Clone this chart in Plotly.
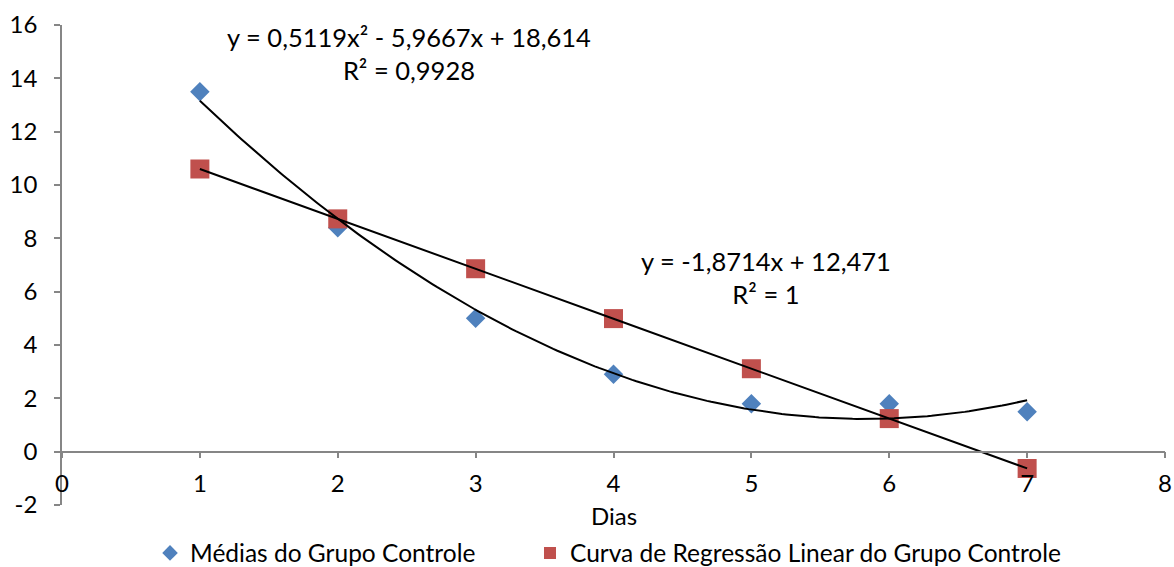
import numpy as np
import plotly.graph_objects as go

dias = [1, 2, 3, 4, 5, 6, 7]
medias = [13.5, 8.4, 5.0, 2.9, 1.8, 1.8, 1.5]
regressao = [10.60, 8.73, 6.86, 4.99, 3.11, 1.24, -0.63]
quad_coef = [0.5119, -5.9667, 18.614]   # from the chart's equation label
lin_coef = [-1.8714, 12.471]
eq1 = "y = 0,5119x² - 5,9667x + 18,614<br>R² = 0,9928"
eq2 = "y = -1,8714x + 12,471<br>R² = 1"
y_ticks = [-2, 0, 2, 4, 6, 8, 10, 12, 14, 16]
y_ticktext = ["-2", "0", "2", "4", "6", "8", "10", "12", "14", "16"]
x_ticks = [0, 1, 2, 3, 4, 5, 6, 7, 8]

FONT = "Lato"
AX = "#868686"
FS = 24

fig = go.Figure()
fig.add_trace(go.Scatter(x=dias, y=medias, mode="markers", name="Médias do Grupo Controle",
                         marker=dict(symbol="diamond", size=15, color="#4F81BD"), legend="legend"))
fig.add_trace(go.Scatter(x=dias, y=regressao, mode="markers",
                         name="Curva de Regressão Linear do Grupo Controle",
                         marker=dict(symbol="square", size=19, color="#C0504D"), legend="legend2"))

xs = np.linspace(min(dias), max(dias), 200)
fig.add_trace(go.Scatter(x=xs, y=np.polyval(quad_coef, xs), mode="lines", showlegend=False,
                         line=dict(color="black", width=2), hoverinfo="skip"))
fig.add_trace(go.Scatter(x=xs, y=np.polyval(lin_coef, xs), mode="lines", showlegend=False,
                         line=dict(color="black", width=2), hoverinfo="skip"))

fig.add_annotation(x=2.52, y=14.93, text=eq1, showarrow=False, xanchor="center", yanchor="middle",
                   font=dict(family=FONT, size=25.5, color="black"))
fig.add_annotation(x=5.105, y=6.54, text=eq2, showarrow=False, xanchor="center", yanchor="middle",
                   font=dict(family=FONT, size=25.5, color="black"))
fig.add_annotation(x=0.5, xref="paper", y=-0.021, yref="paper", text="Dias", showarrow=False,
                   xanchor="center", yanchor="middle", font=dict(family=FONT, size=FS, color="black"))

leg = dict(orientation="h", y=-0.1, yanchor="middle", xanchor="left",
           font=dict(family=FONT, size=24.5), itemsizing="constant", bgcolor="rgba(0,0,0,0)")

fig.update_layout(
    width=1174, height=567,
    margin=dict(l=62, r=9, t=25, b=62, autoexpand=False),
    plot_bgcolor="white", paper_bgcolor="white",
    font=dict(family=FONT, size=FS, color="black"),
    showlegend=True,
    legend=dict(leg, x=0.0798),
    legend2=dict(leg, x=0.4243),
    xaxis=dict(range=[0, 8], tickvals=x_ticks, showgrid=False, zeroline=False,
               showline=True, linecolor=AX, linewidth=1.5, ticks="outside", ticklen=6,
               tickcolor=AX, tickwidth=1.5, anchor="free", position=2/18, ticklabelstandoff=5,
               ticklabeloverflow="allow"),
    yaxis=dict(range=[-2, 16], tickvals=y_ticks, ticktext=y_ticktext, showgrid=False, zeroline=False,
               showline=True, linecolor=AX, linewidth=1.5, ticks="outside", ticklen=6,
               tickcolor=AX, tickwidth=1.5, ticklabelstandoff=12, ticklabeloverflow="allow"),
)
fig.write_html("out.html", config={"displayModeBar": False},
               post_script="document.body.style.margin='0';document.body.style.overflow='hidden';")
